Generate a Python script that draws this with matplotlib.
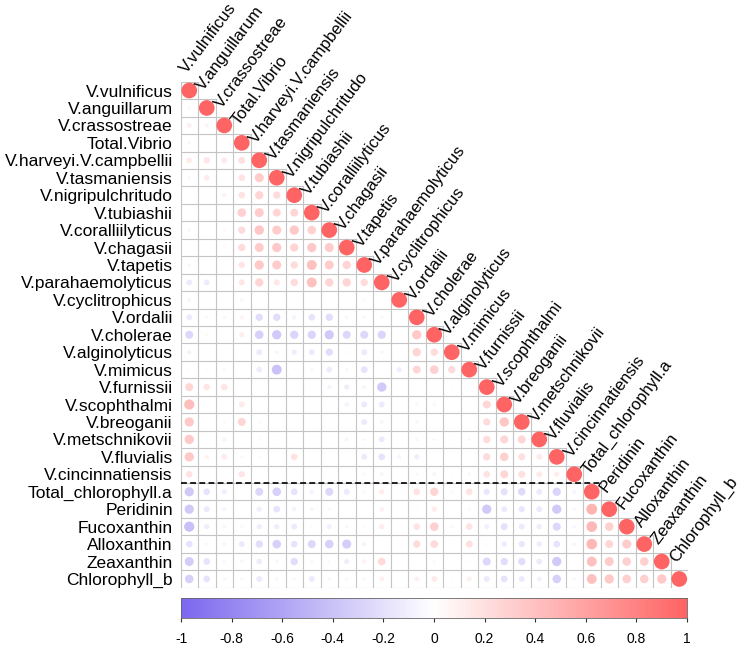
import numpy as np
import matplotlib
matplotlib.use("Agg")
import matplotlib.pyplot as plt
from matplotlib.colors import LinearSegmentedColormap

plt.rcParams["font.family"] = ["Liberation Sans", "DejaVu Sans"]

LABELS = [
    "V.vulnificus", "V.anguillarum", "V.crassostreae", "Total.Vibrio",
    "V.harveyi.V.campbellii", "V.tasmaniensis", "V.nigripulchritudo",
    "V.tubiashii", "V.coralliilyticus", "V.chagasii", "V.tapetis",
    "V.parahaemolyticus", "V.cyclitrophicus", "V.ordalii", "V.cholerae",
    "V.alginolyticus", "V.mimicus", "V.furnissii", "V.scophthalmi",
    "V.breoganii", "V.metschnikovii", "V.fluvialis", "V.cincinnatiensis",
    "Total_chlorophyll.a", "Peridinin", "Fucoxanthin", "Alloxanthin",
    "Zeaxanthin", "Chlorophyll_b",
]

# lower triangle, row i holds the correlations with columns 1..i-1
LOWER_ROWS = [
    [],
    [0.05],
    [0.10, 0.08],
    [0.05, 0, 0],
    [0.14, 0.17, 0.14, 0.20],
    [0.04, 0.13, 0, 0.18, 0.33],
    [0, 0, 0.08, 0.18, 0.28, 0.22],
    [0.03, 0, 0.02, 0.30, 0.33, 0.26, 0.26],
    [0.06, 0, 0.04, 0.22, 0.36, 0.33, 0.35, 0.30],
    [0, 0, 0.04, 0.22, 0.33, 0.35, 0.28, 0.35, 0.33],
    [-0.05, 0, 0, 0.17, 0.35, 0.33, 0.22, 0.40, 0.33, 0.28],
    [-0.14, -0.13, 0, 0.15, 0.28, 0.15, 0.22, 0.40, 0.28, 0.28, 0.22],
    [-0.06, 0, 0, -0.05, 0, 0, 0, 0, 0, 0, 0.04, 0],
    [-0.14, -0.04, -0.05, 0.08, -0.22, -0.22, -0.08, -0.18, -0.22, -0.05,
     -0.05, -0.04, 0],
    [-0.26, 0.04, 0.02, 0.11, -0.30, -0.35, -0.28, -0.28, -0.35, -0.26,
     -0.26, -0.28, 0, 0.35],
    [-0.08, 0, 0, 0, -0.14, -0.06, -0.11, -0.14, -0.22, -0.03,
     -0.14, -0.05, -0.02, 0.28, 0.22],
    [-0.03, -0.02, -0.04, 0, -0.13, -0.40, -0.02, -0.05, -0.14, -0.05,
     -0.18, 0.02, -0.11, 0.26, 0.30, 0.22],
    [0.26, 0.17, 0.17, 0, 0, 0, 0, -0.02, -0.08, -0.11,
     -0.06, -0.35, 0, 0, 0, 0.03, 0],
    [0.42, 0.01, 0.02, 0.14, 0, 0, 0, 0, 0, -0.08,
     -0.14, -0.14, 0, -0.05, -0.05, 0, 0, 0.26],
    [0.35, 0.02, 0.04, 0.26, 0.04, 0, 0, 0, 0, 0,
     -0.14, -0.06, 0, -0.05, -0.02, 0, 0, 0.22, 0.36],
    [0.35, 0.02, 0.08, 0, 0.04, 0.03, 0, 0, 0, -0.06,
     -0.04, -0.14, 0, -0.05, -0.04, -0.02, -0.04, 0.22, 0.26, 0.26],
    [0.35, 0.08, 0.13, 0.05, 0.04, 0.01, 0.18, 0, 0, 0,
     -0.14, -0.18, -0.06, -0.11, 0, 0, 0, 0.22, 0.30, 0.20, 0.14],
    [0.18, 0, 0, 0.17, 0, 0, 0, 0, 0, 0,
     -0.04, -0.06, 0, -0.04, -0.06, -0.02, -0.04, 0.18, 0.26, 0.20, 0.14,
     0.11],
    [-0.35, -0.18, -0.11, -0.02, -0.26, -0.30, -0.18, -0.08, -0.26, -0.14,
     -0.04, 0.11, 0, 0.18, 0.28, 0.04, 0.18, -0.16, -0.20, -0.24, -0.14,
     -0.28, -0.07],
    [-0.35, -0.14, -0.06, 0, -0.11, -0.18, -0.08, -0.06, -0.04, -0.02,
     0, 0.09, 0, 0.03, 0.12, 0, 0.04, -0.35, -0.14, -0.16, -0.14,
     -0.35, -0.05, 0.48],
    [-0.42, -0.11, -0.06, 0.05, -0.11, -0.11, -0.14, -0.03, -0.10, -0.05,
     -0.03, 0.12, 0, 0.18, 0.30, 0.06, 0.18, -0.10, -0.20, -0.14, -0.12,
     -0.26, -0.06, 0.46, 0.30],
    [-0.18, -0.04, -0.06, -0.14, -0.22, -0.30, -0.18, -0.26, -0.30, -0.33,
     -0.08, 0, 0, 0.22, 0.24, 0.02, 0.20, -0.03, -0.12, -0.16, -0.12,
     -0.18, -0.06, 0.46, 0.26, 0.33],
    [-0.33, -0.18, -0.05, -0.05, -0.13, -0.05, -0.22, -0.05, -0.04, -0.11,
     0.08, 0.24, 0, 0, 0.04, 0, 0.03, -0.26, -0.22, -0.22, -0.14,
     -0.35, 0, 0.40, 0.33, 0.30, 0.30],
    [-0.30, -0.18, -0.05, -0.04, -0.14, -0.05, -0.04, -0.14, -0.06, -0.04,
     0.06, 0.10, 0, 0.10, 0.14, 0.03, 0.10, -0.14, -0.18, -0.14, -0.10,
     -0.30, -0.05, 0.40, 0.35, 0.30, 0.30, 0.35],
]

# dashed separator drawn below this row (bacteria / pigments)
SPLIT_ROW = 23

CBAR_TICKS = [-1, -0.8, -0.6, -0.4, -0.2, 0, 0.2, 0.4, 0.6, 0.8, 1]

cmap = LinearSegmentedColormap.from_list(
    "corr", ["#7B68EE", "#FFFFFF", "#FF6464"])

n = len(LABELS)
W, H, DPI = 742, 647, 100
fig = plt.figure(figsize=(W / DPI, H / DPI), dpi=DPI)

# grid area in pixels
gx0, gx1, gy0, gy1 = 180.5, 688.0, 81.8, 587.7
ax = fig.add_axes([gx0 / W, 1 - gy1 / H, (gx1 - gx0) / W, (gy1 - gy0) / H])
ax.set_xlim(0.5, n + 0.5)
ax.set_ylim(n + 0.5, 0.5)
for side in ax.spines.values():
    side.set_visible(False)

# grid of the lower triangle
grid_col = "#C4C4C4"
for k in range(n + 1):
    ax.plot([0.5, min(k + 1, n) + 0.5], [k + 0.5, k + 0.5],
            color=grid_col, lw=0.8, zorder=1)
    ax.plot([k + 0.5, k + 0.5], [max(k, 1) - 0.5, n + 0.5],
            color=grid_col, lw=0.8, zorder=1)

xs, ys, vals = [], [], []
for i, row in enumerate(LOWER_ROWS, start=1):
    for j, v in enumerate(row + [1.0], start=1):
        xs.append(j)
        ys.append(i)
        vals.append(v)
vals = np.array(vals)

cell_px = (gy1 - gy0) / n
diam_pt = 0.9 * np.sqrt(np.abs(vals)) * cell_px * 72 / DPI
ax.scatter(xs, ys, s=diam_pt ** 2, c=vals, cmap=cmap, vmin=-1, vmax=1,
           edgecolors="none", zorder=3)

ax.plot([0.5, SPLIT_ROW + 1.5], [SPLIT_ROW + 0.5, SPLIT_ROW + 0.5],
        color="black", lw=1.2, dashes=(3.5, 2), zorder=4)

ax.set_xticks([])
ax.set_yticks(range(1, n + 1))
ax.set_yticklabels(LABELS, fontsize=12.5)
ax.tick_params(axis="y", length=0, pad=5.5)

for j, name in enumerate(LABELS, start=1):
    ax.annotate(name, xy=(j, j - 0.5), xytext=(-2, 5.5),
                textcoords="offset points", rotation=53,
                rotation_mode="anchor", ha="left", va="baseline",
                fontsize=12, annotation_clip=False)

# colour legend
cax = fig.add_axes([181 / W, 1 - 618.3 / H, 506 / W, 20.6 / H])
grad = np.linspace(-1, 1, 512).reshape(1, -1)
cax.imshow(grad, cmap=cmap, vmin=-1, vmax=1, aspect="auto",
           extent=(-1, 1, 0, 1))
cax.set_xlim(-1, 1)
cax.set_yticks([])
cax.set_xticks(CBAR_TICKS)
cax.set_xticklabels([f"{t:g}" for t in CBAR_TICKS], fontsize=10)
cax.tick_params(axis="x", length=3, width=0.8, pad=7, color="#333333")
for side in cax.spines.values():
    side.set_linewidth(0.6)
    side.set_color("#666666")

fig.savefig("out.png", dpi=DPI)
